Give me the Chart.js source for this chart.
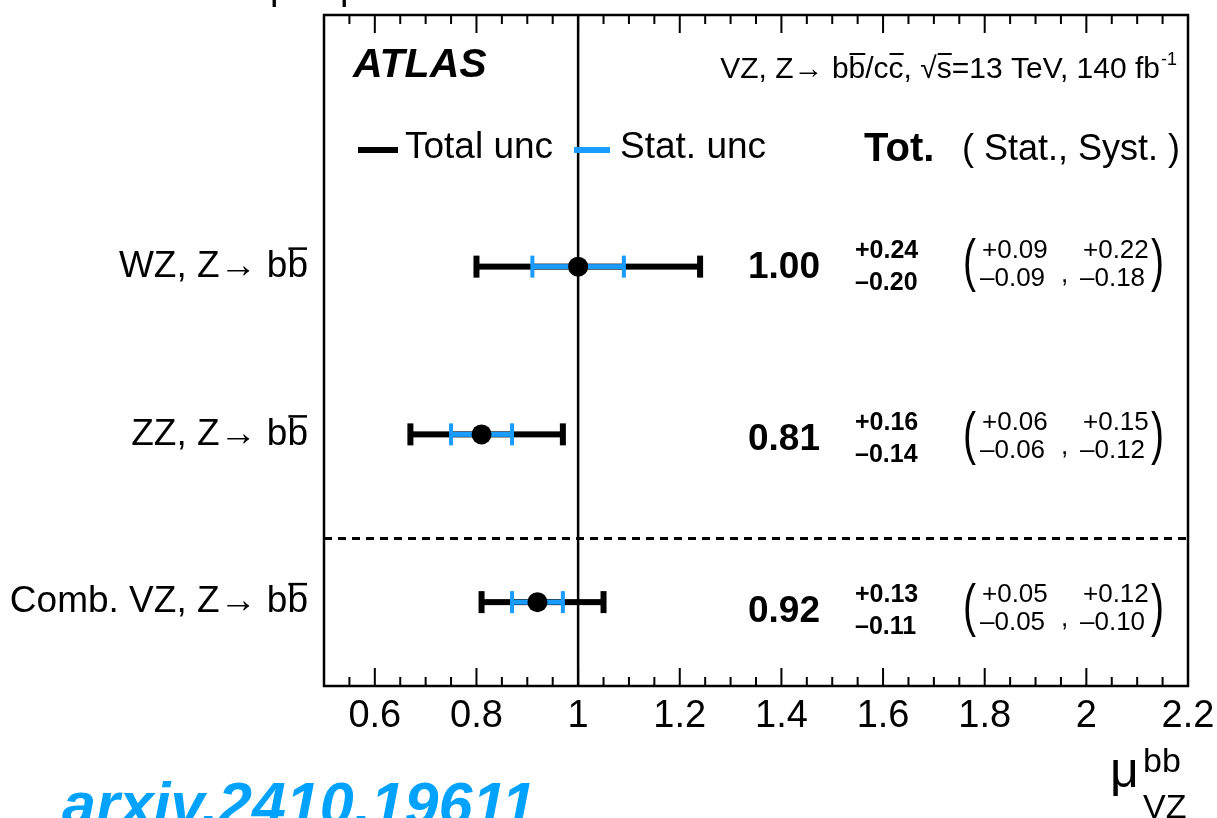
<!DOCTYPE html>
<html>
<head>
<meta charset="utf-8">
<script src="https://cdn.jsdelivr.net/npm/chart.js@4"></script>
<style>
  html, body { margin: 0; padding: 0; background: #fff; }
  #wrap { width: 1217px; height: 818px; position: relative; overflow: hidden; }
  canvas { display: block; }
</style>
</head>
<body>
<div id="wrap"><canvas id="c" width="1217" height="818"></canvas></div>
<script>
// ---- data ----
const categories = ['WZ, Z\u2192 bb', 'ZZ, Z\u2192 bb', 'Comb. VZ, Z\u2192 bb'];
const rowPos = [2.5, 1.5, 0.5];
const mu = [1.00, 0.81, 0.92];
const totUp = [0.24, 0.16, 0.13];
const totDn = [0.20, 0.14, 0.11];
const statUp = [0.09, 0.06, 0.05];
const statDn = [0.09, 0.06, 0.05];
const systUp = [0.22, 0.15, 0.12];
const systDn = [0.18, 0.12, 0.10];
const xTicks = [0.6, 0.8, 1.0, 1.2, 1.4, 1.6, 1.8, 2.0, 2.2];
const xTickLabels = ['0.6', '0.8', '1', '1.2', '1.4', '1.6', '1.8', '2', '2.2'];
const xMinorStep = 0.05;
const xMin = 0.5, xMax = 2.2;
const yMin = 0, yMax = 4;
const separatorY = 0.88;
const refLine = 1.0;

const FONT = '"Liberation Sans", Arial, Helvetica, sans-serif';
const BLUE = '#1A9CFF';

function fmt(v) { return v.toFixed(2); }

function drawOver(ctx, x, y, w) {
  ctx.beginPath(); ctx.moveTo(x, y); ctx.lineTo(x + w, y); ctx.stroke();
}

function bigParen(ctx, ch, x, yc) {
  ctx.save();
  ctx.translate(x, yc);
  ctx.scale(0.85, 1.25);
  ctx.font = '46px ' + FONT;
  ctx.textBaseline = 'middle';
  ctx.fillText(ch, 0, 0);
  ctx.restore();
}

const atlasPlugin = {
  id: 'atlas',
  beforeDatasetsDraw(chart) {
    const ctx = chart.ctx, xs = chart.scales.x, ys = chart.scales.y, ca = chart.chartArea;
    ctx.save();
    // reference line at mu = 1
    ctx.strokeStyle = '#000'; ctx.lineWidth = 2.5;
    const x1 = xs.getPixelForValue(refLine);
    ctx.beginPath(); ctx.moveTo(x1, ca.top); ctx.lineTo(x1, ca.bottom); ctx.stroke();
    // dashed separator
    const yd = ys.getPixelForValue(separatorY);
    ctx.setLineDash([8, 6]); ctx.lineWidth = 3;
    ctx.beginPath(); ctx.moveTo(ca.left, yd); ctx.lineTo(ca.right, yd); ctx.stroke();
    ctx.setLineDash([]);
    // error bars
    for (let i = 0; i < mu.length; i++) {
      const y = ys.getPixelForValue(rowPos[i]);
      const tl = xs.getPixelForValue(mu[i] - totDn[i]);
      const tr = xs.getPixelForValue(mu[i] + totUp[i]);
      ctx.fillStyle = '#000';
      ctx.fillRect(tl, y - 3, tr - tl, 6);
      ctx.fillRect(tl - 3, y - 11, 6, 22);
      ctx.fillRect(tr - 3, y - 11, 6, 22);
      const sl = xs.getPixelForValue(mu[i] - statDn[i]);
      const sr = xs.getPixelForValue(mu[i] + statUp[i]);
      ctx.fillStyle = BLUE;
      ctx.fillRect(sl, y - 2.5, sr - sl, 5);
      ctx.fillRect(sl - 2, y - 11, 4, 22);
      ctx.fillRect(sr - 2, y - 11, 4, 22);
    }
    ctx.restore();
  },
  afterDraw(chart) {
    const ctx = chart.ctx, xs = chart.scales.x, ys = chart.scales.y, ca = chart.chartArea;
    ctx.save();
    // frame
    ctx.strokeStyle = '#000'; ctx.lineWidth = 2.5;
    ctx.strokeRect(ca.left, ca.top, ca.right - ca.left, ca.bottom - ca.top);
    // inward ticks top & bottom
    ctx.lineWidth = 2;
    const n = Math.round((xMax - xMin) / xMinorStep);
    for (let k = 0; k <= n; k++) {
      const v = xMin + k * xMinorStep;
      const major = xTicks.some(t => Math.abs(t - v) < 1e-6);
      const len = major ? 18 : 9;
      const px = xs.getPixelForValue(v);
      ctx.beginPath();
      ctx.moveTo(px, ca.bottom); ctx.lineTo(px, ca.bottom - len);
      ctx.moveTo(px, ca.top); ctx.lineTo(px, ca.top + len);
      ctx.stroke();
    }
    // overline on the b-bar of category labels
    ctx.font = '37px ' + FONT;
    const wb = ctx.measureText('b').width;
    ctx.lineWidth = 2.5;
    const labelRight = ca.left - 16;
    for (let i = 0; i < categories.length; i++) {
      const y = ys.getPixelForValue(rowPos[i]);
      drawOver(ctx, labelRight - wb + 1, y - 18, wb - 2);
    }

    ctx.fillStyle = '#000';
    ctx.textBaseline = 'alphabetic';
    // cut-off text at the very top
    ctx.font = '38px ' + FONT;
    ctx.fillText('p', 270, -1);
    ctx.fillText('p', 340, -1);

    // ATLAS label
    ctx.font = 'italic bold 41px ' + FONT;
    ctx.textAlign = 'left';
    ctx.fillText('ATLAS', 353, 77);

    // header on the right: VZ, Z→ bb̄/cc̄, √s=13 TeV, 140 fb^-1
    const hs = 30;
    const segs = [
      ['VZ, Z\u2192 b', false], ['b', true], ['/c', false], ['c', true], [', ', false],
      ['\u221A', false], ['s', true], ['=13 TeV, 140 fb', false]
    ];
    ctx.font = hs + 'px ' + FONT;
    let tw = 0;
    segs.forEach(s => tw += ctx.measureText(s[0]).width);
    ctx.font = Math.round(hs * 0.6) + 'px ' + FONT;
    const supW = ctx.measureText('-1').width;
    let hx = 1176 - supW - tw;
    const hb = 78;
    ctx.font = hs + 'px ' + FONT;
    ctx.lineWidth = 2;
    segs.forEach(s => {
      ctx.fillText(s[0], hx, hb);
      const w = ctx.measureText(s[0]).width;
      if (s[1]) drawOver(ctx, hx + 1, hb - hs * 0.8, w - 1);
      hx += w;
    });
    ctx.font = Math.round(hs * 0.6) + 'px ' + FONT;
    ctx.fillText('-1', hx + 1, hb - hs * 0.45);

    // legend
    ctx.fillStyle = '#000';
    ctx.fillRect(358, 147, 40, 6);
    ctx.fillStyle = BLUE;
    ctx.fillRect(574, 147, 36, 6);
    ctx.fillStyle = '#000';
    ctx.textBaseline = 'middle';
    ctx.font = '37px ' + FONT;
    ctx.fillText('Total unc', 405, 148);
    ctx.fillText('Stat. unc', 620, 148);
    ctx.font = 'bold 40px ' + FONT;
    ctx.fillText('Tot.', 864, 150);
    ctx.font = '36px ' + FONT;
    ctx.fillText('( Stat., Syst. )', 962, 150);

    // values per row
    for (let i = 0; i < mu.length; i++) {
      const yc = ys.getPixelForValue(rowPos[i]) + i * 4.5;
      ctx.textAlign = 'center';
      ctx.font = 'bold 37px ' + FONT;
      ctx.fillText(fmt(mu[i]), 784, yc + 1);
      ctx.textAlign = 'left';
      ctx.font = 'bold 25px ' + FONT;
      ctx.fillText('+' + fmt(totUp[i]), 855, yc - 16);
      ctx.fillText('\u2013' + fmt(totDn[i]), 855, yc + 16);
      ctx.font = '26px ' + FONT;
      ctx.fillText('+' + fmt(statUp[i]), 982, yc - 16);
      ctx.fillText('\u2013' + fmt(statDn[i]), 980, yc + 12);
      ctx.fillText('+' + fmt(systUp[i]), 1083, yc - 16);
      ctx.fillText('\u2013' + fmt(systDn[i]), 1080, yc + 12);
      ctx.fillText(',', 1061, yc + 8);
      bigParen(ctx, '(', 963, yc - 2);
      bigParen(ctx, ')', 1151, yc - 2);
    }

    // axis title mu_VZ^bb
    ctx.textBaseline = 'alphabetic';
    ctx.textAlign = 'left';
    ctx.font = '50px ' + FONT;
    ctx.fillText('\u03BC', 1110, 787);
    ctx.font = '34px ' + FONT;
    ctx.fillText('bb', 1143, 772);
    ctx.fillText('VZ', 1143, 818);

    // arxiv reference
    ctx.fillStyle = '#00A2FF';
    ctx.font = 'italic bold 61px ' + FONT;
    ctx.fillText('arxiv.2410.19611', 62, 825);
    ctx.restore();
  }
};

const ctx = document.getElementById('c').getContext('2d');
new Chart(ctx, {
  type: 'scatter',
  data: {
    datasets: [{
      data: mu.map((m, i) => ({ x: m, y: rowPos[i] })),
      pointRadius: 10, pointHoverRadius: 10,
      backgroundColor: '#000', borderColor: '#000', borderWidth: 0
    }]
  },
  options: {
    responsive: false, animation: false, devicePixelRatio: 1,
    layout: { padding: { left: 0, right: 29, top: 15, bottom: 0 } },
    plugins: { legend: { display: false }, tooltip: { enabled: false } },
    scales: {
      x: {
        type: 'linear', min: xMin, max: xMax,
        afterBuildTicks: (a) => { a.ticks = xTicks.map(v => ({ value: v })); },
        afterFit: (s) => { s.height = 132; s.paddingLeft = 0; s.paddingRight = 0; },
        grid: { display: false, drawTicks: false },
        border: { display: false },
        ticks: {
          color: '#000', padding: 8, maxRotation: 0, autoSkip: false,
          font: { family: FONT, size: 38 },
          callback: (v, i) => xTickLabels[i]
        }
      },
      y: {
        type: 'linear', min: yMin, max: yMax,
        afterBuildTicks: (a) => { a.ticks = rowPos.map(v => ({ value: v })); },
        afterFit: (s) => { s.width = 324; s.paddingTop = 0; s.paddingBottom = 0; },
        grid: { display: false, drawTicks: false },
        border: { display: false },
        ticks: {
          color: '#000', padding: 16, autoSkip: false,
          font: { family: FONT, size: 37 },
          callback: (v, i) => categories[rowPos.indexOf(v)] !== undefined ? categories[rowPos.indexOf(v)] : ''
        }
      }
    }
  },
  plugins: [atlasPlugin]
});
</script>
</body>
</html>
